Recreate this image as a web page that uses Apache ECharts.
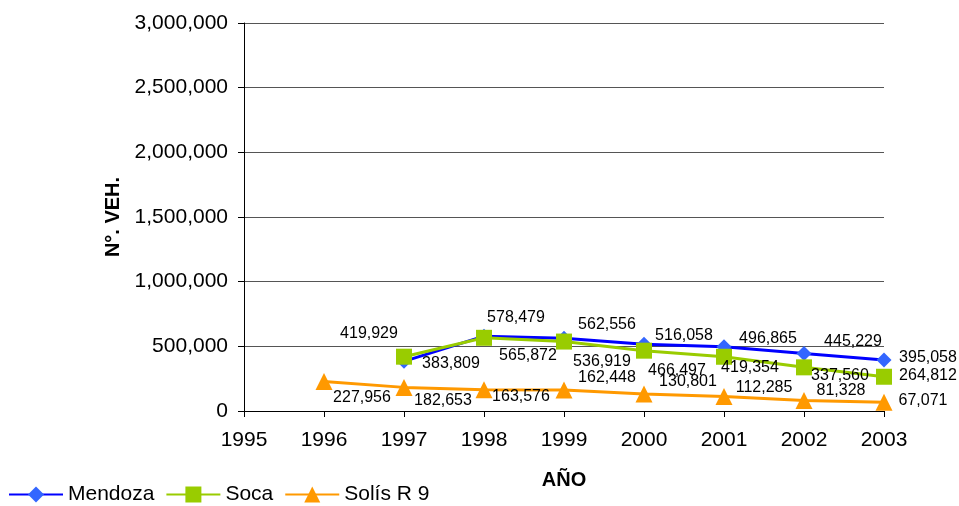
<!DOCTYPE html>
<html>
<head>
<meta charset="utf-8">
<script src="https://cdn.jsdelivr.net/npm/echarts@6/dist/echarts.min.js"></script>
<style>
html,body{margin:0;padding:0;background:#fff;}
#chart{width:959px;height:506px;}
</style>
</head>
<body>
<div id="chart"></div>
<script>
// ---- data ----
const xTicks = [1995, 1996, 1997, 1998, 1999, 2000, 2001, 2002, 2003];
const yearsMendoza = [1997, 1998, 1999, 2000, 2001, 2002, 2003];
const mendoza = [383809, 578479, 562556, 516058, 496865, 445229, 395058];
const yearsSoca = [1997, 1998, 1999, 2000, 2001, 2002, 2003];
const soca = [419929, 565872, 536919, 466497, 419354, 337560, 264812];
const yearsSolis = [1996, 1997, 1998, 1999, 2000, 2001, 2002, 2003];
const solis = [227956, 182653, 163576, 162448, 130801, 112285, 81328, 67071];
const seriesNames = ['Mendoza', 'Soca', 'Solís R 9'];

// ---- label placement (styling, kept apart from data) ----
const offMendoza = [[47,2],[32,-19],[43,-14],[40,-9],[44,-8],[49,-12],[44,-2]];
const offSoca = [[-35,-23],[44,18],[38,20],[33,20],[26,11],[36,8],[44,-1]];
const offSolis = [[38,16],[39,13],[37,7],[43,-12],[44,-12],[40,-9],[37,-10],[39,-2]];

const FONT = '"Liberation Sans", Arial, Helvetica, sans-serif';
const fmt = v => Number(v).toLocaleString('en-US');

function build(years, vals, offs) {
  return years.map((y, i) => ({
    value: [y, vals[i]],
    label: { offset: offs[i] }
  }));
}

const labelBase = {
  show: true,
  position: 'inside',
  color: '#000',
  fontSize: 16,
  fontFamily: FONT,
  formatter: p => fmt(p.value[1])
};

const chart = echarts.init(document.getElementById('chart'), null, { renderer: 'canvas' });
chart.setOption({
  animation: false,
  backgroundColor: '#fff',
  textStyle: { fontFamily: FONT },
  grid: { left: 244, right: 75, top: 23, bottom: 95, containLabel: false },
  xAxis: {
    type: 'value',
    min: xTicks[0],
    max: xTicks[xTicks.length - 1],
    interval: 1,
    name: 'AÑO',
    nameLocation: 'middle',
    nameGap: 59,
    nameTextStyle: { fontSize: 20, fontWeight: 'bold', color: '#000', fontFamily: FONT },
    axisLine: { show: true, lineStyle: { color: '#000', width: 1 } },
    axisTick: { show: true, length: 6, lineStyle: { color: '#000' } },
    axisLabel: { fontSize: 21, color: '#000', margin: 19, formatter: v => String(v), fontFamily: FONT },
    splitLine: { show: false }
  },
  yAxis: {
    type: 'value',
    min: 0,
    max: 3000000,
    interval: 500000,
    name: 'N°. VEH.',
    nameLocation: 'middle',
    nameGap: 120,
    nameRotate: 90,
    nameTextStyle: { fontSize: 20, fontWeight: 'bold', color: '#000', fontFamily: FONT },
    axisLine: { show: true, lineStyle: { color: '#000', width: 1 } },
    axisTick: { show: true, length: 6, lineStyle: { color: '#000' } },
    axisLabel: { fontSize: 21, color: '#000', margin: 16, formatter: v => fmt(v), fontFamily: FONT },
    splitLine: { show: true, lineStyle: { color: '#555', width: 1 } }
  },
  legend: {
    show: true,
    left: 8,
    top: 484,
    padding: 0,
    itemWidth: 54,
    itemHeight: 20,
    itemGap: 11,
    textStyle: { fontSize: 21, color: '#000', fontFamily: FONT },
    data: seriesNames
  },
  series: [
    {
      name: seriesNames[0],
      type: 'line',
      data: build(yearsMendoza, mendoza, offMendoza),
      symbol: 'diamond',
      symbolSize: 15,
      lineStyle: { color: '#0000ff', width: 3 },
      itemStyle: { color: '#3366ff' },
      label: labelBase,
      z: 2
    },
    {
      name: seriesNames[1],
      type: 'line',
      data: build(yearsSoca, soca, offSoca),
      symbol: 'rect',
      symbolSize: 16,
      lineStyle: { color: '#99cc00', width: 3 },
      itemStyle: { color: '#99cc00' },
      label: labelBase,
      z: 3
    },
    {
      name: seriesNames[2],
      type: 'line',
      data: build(yearsSolis, solis, offSolis),
      symbol: 'triangle',
      symbolSize: 17,
      lineStyle: { color: '#ff9900', width: 3 },
      itemStyle: { color: '#ff9900' },
      label: labelBase,
      z: 1
    }
  ]
});
</script>
</body>
</html>
